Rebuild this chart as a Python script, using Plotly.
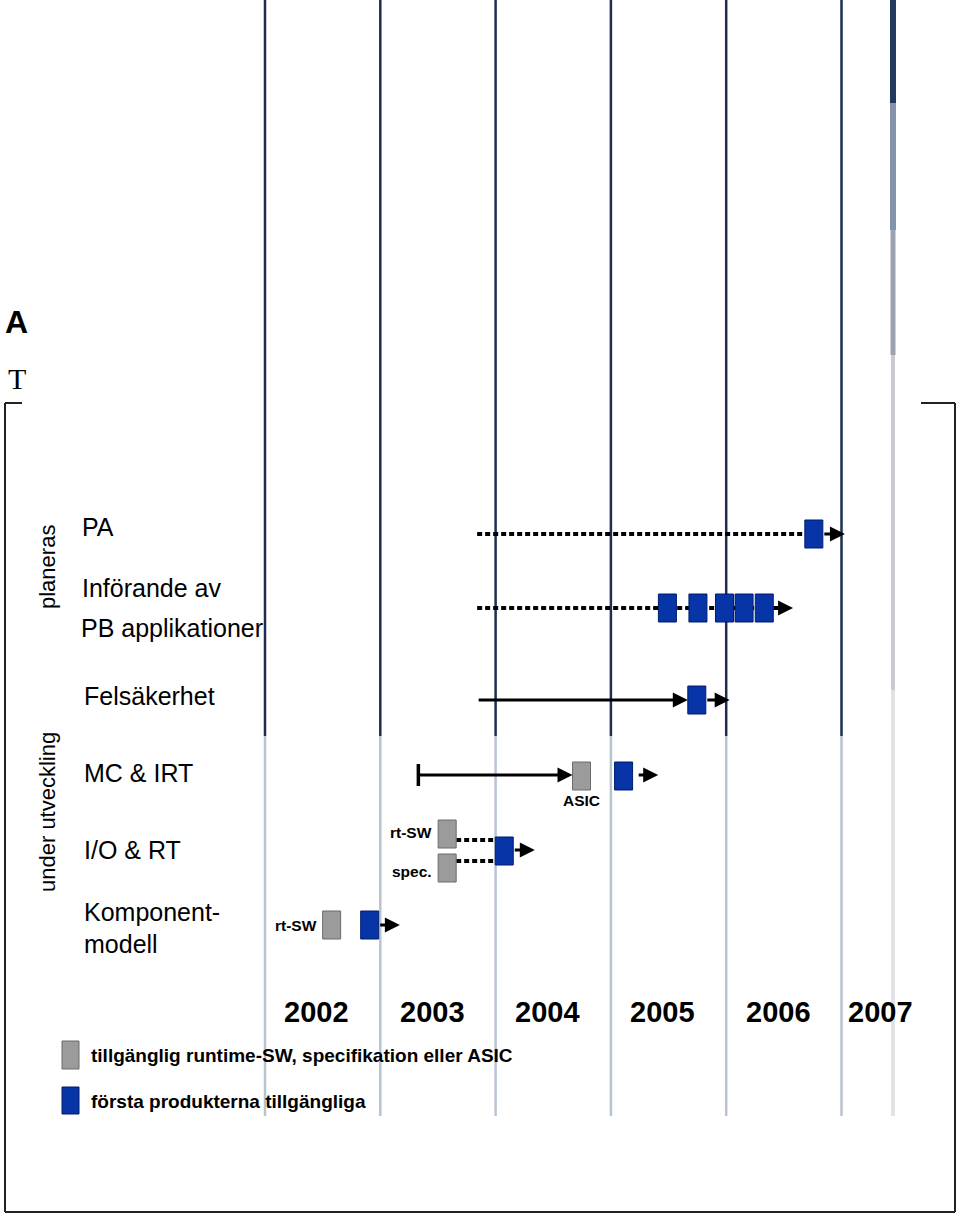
import plotly.graph_objects as go

# ---------------- data ----------------
years = [2002, 2003, 2004, 2005, 2006, 2007]
year_labels = ["2002", "2003", "2004", "2005", "2006", "2007"]
row_names = ["PA", "Införande av", "PB applikationer", "Felsäkerhet", "MC & IRT", "I/O & RT",
             "Komponent-", "modell"]
group_names = ["planeras", "under utveckling"]

planning_start = 2003.84          # start of the PA / PB / Felsäkerhet lines
pa_first_products = [2006.76]
pa_arrow_end = 2007.03
pb_first_products = [2005.49, 2005.755, 2005.985, 2006.155, 2006.33]
pb_arrow_end = 2006.58
fels_first_products = [2005.745]
fels_arrow_end = 2006.03
mc_start = 2003.33
mc_asic = [2004.745]
mc_first_products = [2005.11]
mc_arrow_end = 2005.41
io_rtsw = [2003.58]
io_spec = [2003.58]
io_first_products = [2004.075]
io_arrow_end = 2004.34
komp_rtsw = [2002.578]
komp_first_products = [2002.908]
komp_arrow_end = 2003.17

legend_texts = ["tillgänglig runtime-SW, specifikation eller ASIC",
                "första produkterna tillgängliga"]
small_labels = ["rt-SW", "spec.", "ASIC", "rt-SW"]

# ---------------- layout constants ----------------
W, H = 960, 1216
PX_PER_YEAR = 115.3
X0_PX = 265.0
x_lo = years[0] - X0_PX / PX_PER_YEAR
x_hi = years[0] + (W - X0_PX) / PX_PER_YEAR
HW = 9.0 / PX_PER_YEAR      # half width of a milestone box (years)
HH = 14.0                   # half height of a milestone box (px)

ROW_Y = {"PA": 534, "PB": 608, "FELS": 700, "MC": 776, "IO": 851, "KOMP": 925}
BLUE, BLUE_EDGE = "#0734a6", "#001c6e"
GREY, GREY_EDGE = "#9b9b9b", "#6b6b6b"
FONT = "Arial, Liberation Sans, sans-serif"


def px_x(px):
    return x_lo + px / PX_PER_YEAR


fig = go.Figure()
shapes = []
annotations = []


def text(s, xpx, ypx, size, bold=False, anchor="left", angle=0, family=FONT, xref="paper"):
    x = xpx / W if xref == "paper" else xpx
    annotations.append(dict(text=f"<b>{s}</b>" if bold else s, x=x, y=ypx, xref=xref, yref="y",
                            xanchor=anchor, yanchor="middle", showarrow=False, textangle=angle,
                            font=dict(family=family, size=size, color="black")))


# vertical year boundary lines
for yr in years:
    fig.add_trace(go.Scatter(x=[yr, yr], y=[0, 736], mode="lines",
                             line=dict(color="#1c2e52", width=2.5), hoverinfo="skip"))
    fig.add_trace(go.Scatter(x=[yr, yr], y=[736, 1116], mode="lines",
                             line=dict(color="#b9c4d1", width=2.5), hoverinfo="skip"))

# decorative thick right-hand bar
deco_x = px_x(893)
for (ya, yb, col, w) in [(0, 103, "#203a60", 6), (103, 230, "#8593aa", 6),
                         (230, 355, "#9ca3b0", 5), (355, 690, "#c9cbd0", 4),
                         (690, 1116, "#e1e3e6", 4)]:
    fig.add_trace(go.Scatter(x=[deco_x, deco_x], y=[ya, yb], mode="lines",
                             line=dict(color=col, width=w), hoverinfo="skip"))

DOT = "5px,3px"

# PA dotted line
fig.add_trace(go.Scatter(x=[planning_start, pa_first_products[0] - HW], y=[ROW_Y["PA"]] * 2,
                         mode="lines", line=dict(color="black", width=4, dash=DOT), hoverinfo="skip"))
# PB dotted line
fig.add_trace(go.Scatter(x=[planning_start, pb_arrow_end - 0.1], y=[ROW_Y["PB"]] * 2,
                         mode="lines", line=dict(color="black", width=4, dash=DOT), hoverinfo="skip"))
# I/O dotted lines
fig.add_trace(go.Scatter(x=[io_rtsw[0] + HW, io_first_products[0] - HW], y=[840, 840],
                         mode="lines", line=dict(color="black", width=4, dash=DOT), hoverinfo="skip"))
fig.add_trace(go.Scatter(x=[io_spec[0] + HW, io_first_products[0] - HW], y=[861, 861],
                         mode="lines", line=dict(color="black", width=4, dash=DOT), hoverinfo="skip"))
# MC start tick
fig.add_trace(go.Scatter(x=[mc_start, mc_start], y=[ROW_Y["MC"] - 12, ROW_Y["MC"] + 10],
                         mode="lines", line=dict(color="black", width=3.5), hoverinfo="skip"))


def arrow(x_from, x_to, y, width=3):
    annotations.append(dict(x=x_to, y=y, ax=x_from, ay=y, xref="x", yref="y",
                            axref="x", ayref="y", text="", showarrow=True,
                            arrowhead=2, arrowsize=1.0, arrowwidth=width,
                            arrowcolor="black", standoff=0, startstandoff=0))


def box(xc, yc, fill, edge, xref="x", hw=HW):
    shapes.append(dict(type="rect", xref=xref, yref="y", x0=xc - hw, x1=xc + hw,
                       y0=yc - HH, y1=yc + HH, fillcolor=fill,
                       line=dict(color=edge, width=1), layer="above"))


# PA
for v in pa_first_products:
    box(v, ROW_Y["PA"], BLUE, BLUE_EDGE)
arrow(pa_first_products[-1] + HW, pa_arrow_end, ROW_Y["PA"])
# PB
for v in pb_first_products:
    box(v, ROW_Y["PB"], BLUE, BLUE_EDGE)
arrow(pb_arrow_end - 0.12, pb_arrow_end, ROW_Y["PB"])
# Felsäkerhet
arrow(planning_start, fels_first_products[0] - HW, ROW_Y["FELS"])
for v in fels_first_products:
    box(v, ROW_Y["FELS"], BLUE, BLUE_EDGE)
arrow(fels_first_products[-1] + HW, fels_arrow_end, ROW_Y["FELS"])
# MC & IRT
arrow(mc_start, mc_asic[0] - HW, ROW_Y["MC"] - 1)
for v in mc_asic:
    box(v, ROW_Y["MC"], GREY, GREY_EDGE)
for v in mc_first_products:
    box(v, ROW_Y["MC"], BLUE, BLUE_EDGE)
arrow(mc_first_products[-1] + HW + 0.04, mc_arrow_end, ROW_Y["MC"] - 1)
# I/O & RT
for v in io_rtsw:
    box(v, 834, GREY, GREY_EDGE)
for v in io_spec:
    box(v, 868, GREY, GREY_EDGE)
for v in io_first_products:
    box(v, ROW_Y["IO"], BLUE, BLUE_EDGE)
arrow(io_first_products[-1] + HW, io_arrow_end, ROW_Y["IO"] - 1)
# Komponentmodell
for v in komp_rtsw:
    box(v, ROW_Y["KOMP"], GREY, GREY_EDGE)
for v in komp_first_products:
    box(v, ROW_Y["KOMP"], BLUE, BLUE_EDGE)
arrow(komp_first_products[-1] + HW, komp_arrow_end, ROW_Y["KOMP"])

# legend boxes (paper x)
shapes.append(dict(type="rect", xref="paper", yref="y", x0=62 / W, x1=79 / W, y0=1041, y1=1069,
                   fillcolor=GREY, line=dict(color=GREY_EDGE, width=1), layer="above"))
shapes.append(dict(type="rect", xref="paper", yref="y", x0=62 / W, x1=79 / W, y0=1087, y1=1114,
                   fillcolor=BLUE, line=dict(color=BLUE_EDGE, width=1), layer="above"))

# outer frame
frame = dict(color="#222222", width=2)
for (x0, y0, x1, y1) in [(5, 403, 5, 1212), (5, 1212, 955, 1212), (955, 403, 955, 1212),
                         (5, 403, 22, 403), (921, 403, 955, 403)]:
    shapes.append(dict(type="line", xref="paper", yref="y", x0=x0 / W, x1=x1 / W,
                       y0=y0, y1=y1, line=frame, layer="above"))

# row labels
label_pos = [(80, 527), (80, 588), (79, 628), (82, 696), (82, 773), (82, 850), (82, 912), (82, 944)]
for name, (lx, ly) in zip(row_names, label_pos):
    text(name, lx, ly, 25)

# group labels (rotated)
text(group_names[0], 47, 567, 22, anchor="center", angle=-90)
text(group_names[1], 47, 812, 22, anchor="center", angle=-90)

# small labels
text(small_labels[0], 434, 832, 15.5, bold=True, anchor="right")
text(small_labels[1], 434, 871, 15.5, bold=True, anchor="right")
text(small_labels[2], mc_asic[0], 800, 15.5, bold=True, anchor="center", xref="x")
text(small_labels[3], 319, 925, 15.5, bold=True, anchor="right")

# year labels (centred in their columns)
year_centres = [y + 0.45 for y in years[:-1]] + [years[-1] + 0.34]
for lab, xc in zip(year_labels, year_centres):
    text(lab, xc, 1012, 29, bold=True, anchor="center", xref="x")

# legend texts
text(legend_texts[0], 89, 1055, 19, bold=True)
text(legend_texts[1], 89, 1101, 19, bold=True)

# cut-off slide title fragments
text("A", 3, 322, 32, bold=True)
text("T", 6, 378, 30, family="Liberation Serif, Times New Roman, serif")

fig.update_layout(
    width=W, height=H, margin=dict(l=0, r=0, t=0, b=0),
    paper_bgcolor="white", plot_bgcolor="white", showlegend=False,
    xaxis=dict(range=[x_lo, x_hi], visible=False, fixedrange=True),
    yaxis=dict(range=[H, 0], visible=False, fixedrange=True),
    shapes=shapes, annotations=annotations,
)

fig.write_html("out.html", config={"displayModeBar": False},
               post_script="document.body.style.margin='0';document.body.style.overflow='hidden';")
